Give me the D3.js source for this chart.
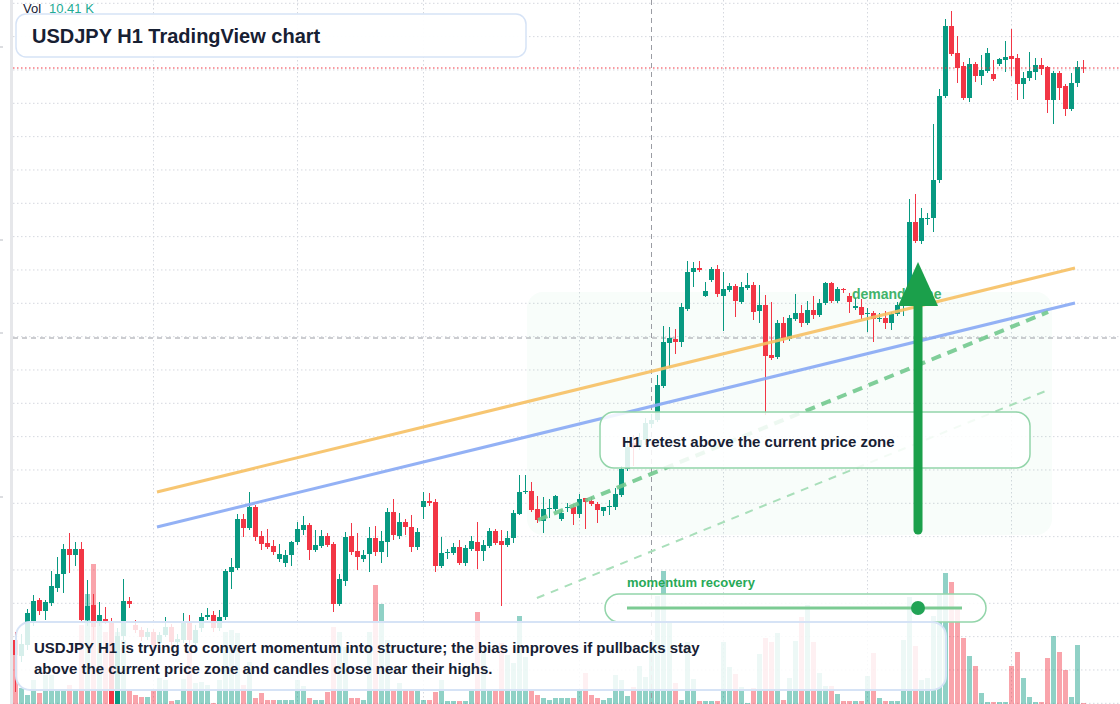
<!DOCTYPE html>
<html>
<head>
<meta charset="utf-8">
<script src="https://cdn.jsdelivr.net/npm/d3@7/dist/d3.min.js"></script>
<style>
  html, body { margin: 0; padding: 0; background: #fff; }
  svg { display: block; font-family: "Liberation Sans", Arial, sans-serif; }
</style>
</head>
<body>
<svg id="chart" width="1120" height="704"></svg>
<script>
// USDJPY H1 свечи (индекс = номер бара)
const open = [
  153.60, 153.44, 153.55, 153.78, 154.00, 153.89, 153.97, 154.12, 154.26, 154.51,
  154.45, 154.51, 153.80, 153.95, 153.79, 153.81, 153.79, 152.84, 153.64, 153.99,
  153.75, 153.70, 153.63, 153.68, 153.57, 153.65, 153.73, 153.58, 153.60, 153.78,
  153.57, 153.72, 153.83, 153.85, 153.72, 153.83, 154.28, 154.32, 154.81, 154.72,
  154.93, 154.64, 154.57, 154.54, 154.41, 154.37, 154.45, 154.58, 154.70, 154.75,
  154.50, 154.54, 154.64, 154.56, 153.96, 154.19, 154.64, 154.49, 154.41, 154.46,
  154.62, 154.48, 154.58, 154.88, 154.64, 154.78, 154.73, 154.53, 154.93, 154.99,
  154.98, 154.34, 154.47, 154.47, 154.53, 154.37, 154.51, 154.58, 154.49, 154.54,
  154.69, 154.59, 154.55, 154.62, 154.86, 155.08, 155.09, 154.91, 154.79, 154.91,
  154.91, 154.81, 154.925, 154.93, 154.86, 155.02, 154.99, 154.96, 154.89, 154.935,
  154.93, 155.05, 155.31, 155.57, 155.53, 155.60, 155.76, 155.80, 156.14, 156.57,
  156.61, 156.58, 156.91, 157.28, 157.32, 157.04, 157.20, 157.31, 157.04, 157.10,
  157.14, 156.98, 157.12, 157.15, 156.89, 156.95, 156.45, 156.43, 156.77, 156.61,
  156.81, 156.87, 156.77, 156.90, 156.85, 156.97, 157.17, 156.99, 157.11, 157.04,
  156.92, 156.93, 156.865, 156.87, 156.815, 156.82, 156.77, 156.86, 156.94, 156.97,
  157.78, 157.59, 157.815, 157.82, 158.20, 159.04, 159.74, 159.47, 159.34, 159.02,
  159.36, 159.24, 159.29, 159.26, 159.36, 159.40, 159.44, 159.42, 159.16, 159.22,
  159.28, 159.35, 159.33, 159.00, 159.27, 159.14, 158.91, 159.17, 159.325
]
const high = [
  153.68, 153.66, 153.91, 154.05, 154.02, 154.00, 154.29, 154.43, 154.56, 154.67,
  154.58, 154.58, 154.20, 154.06, 153.98, 153.93, 153.82, 153.72, 154.21, 154.03,
  153.80, 153.73, 153.72, 153.71, 153.68, 153.83, 153.76, 153.66, 153.87, 153.85,
  153.75, 153.87, 153.92, 153.89, 153.90, 154.31, 154.42, 154.86, 154.86, 155.08,
  154.95, 154.69, 154.71, 154.60, 154.56, 154.50, 154.59, 154.78, 154.84, 154.77,
  154.70, 154.70, 154.67, 154.58, 154.26, 154.68, 154.77, 154.67, 154.50, 154.73,
  154.74, 154.69, 154.92, 155.01, 154.87, 154.81, 154.85, 154.72, 155.08, 155.07,
  155.01, 154.63, 154.51, 154.57, 154.60, 154.55, 154.64, 154.78, 154.60, 154.72,
  154.71, 154.70, 154.69, 154.90, 155.25, 155.25, 155.18, 155.04, 155.03, 155.01,
  155.05, 154.90, 154.97, 154.95, 155.06, 155.02, 155.03, 154.98, 154.93, 155.00,
  155.12, 155.34, 155.63, 155.65, 155.67, 155.82, 155.86, 156.25, 156.74, 156.73,
  156.71, 156.97, 157.39, 157.38, 157.39, 157.18, 157.33, 157.35, 157.28, 157.17,
  157.16, 157.18, 157.27, 157.18, 157.15, 157.05, 156.98, 156.80, 156.83, 156.85,
  157.06, 156.95, 156.99, 157.04, 157.01, 157.18, 157.18, 157.13, 157.12, 157.07,
  157.02, 157.01, 156.92, 156.89, 156.87, 156.89, 156.88, 156.98, 157.03, 158.01,
  158.06, 157.92, 157.87, 158.76, 159.11, 159.81, 159.89, 159.64, 159.38, 159.42,
  159.38, 159.45, 159.52, 159.40, 159.42, 159.59, 159.71, 159.46, 159.28, 159.48,
  159.42, 159.42, 159.34, 159.29, 159.29, 159.16, 159.27, 159.39, 159.40
]
const low = [
  153.08, 153.38, 153.50, 153.74, 153.85, 153.80, 153.94, 154.08, 154.07, 154.27,
  154.34, 153.78, 153.74, 153.60, 153.74, 153.76, 152.70, 152.70, 153.60, 153.92,
  153.67, 153.59, 153.60, 153.50, 153.53, 153.63, 153.54, 153.55, 153.57, 153.55,
  153.52, 153.68, 153.80, 153.68, 153.69, 153.80, 154.11, 154.30, 154.63, 154.70,
  154.59, 154.50, 154.51, 154.45, 154.38, 154.33, 154.34, 154.55, 154.65, 154.40,
  154.48, 154.52, 154.53, 153.88, 153.94, 154.14, 154.45, 154.30, 154.38, 154.28,
  154.44, 154.37, 154.43, 154.60, 154.61, 154.65, 154.48, 154.50, 154.81, 154.94,
  154.28, 154.32, 154.41, 154.45, 154.35, 154.34, 154.49, 154.31, 154.39, 154.52,
  154.55, 153.94, 154.53, 154.57, 154.85, 155.06, 154.88, 154.77, 154.67, 154.82,
  154.89, 154.79, 154.88, 154.75, 154.82, 154.71, 154.94, 154.77, 154.84, 154.85,
  154.90, 155.03, 155.29, 155.34, 155.50, 155.55, 155.72, 155.78, 156.12, 156.32,
  156.46, 156.53, 156.89, 157.13, 157.28, 157.03, 157.18, 157.03, 156.69, 157.08,
  156.83, 156.96, 157.10, 156.80, 156.77, 155.85, 156.40, 156.41, 156.57, 156.59,
  156.79, 156.73, 156.75, 156.81, 156.83, 156.95, 156.97, 156.97, 157.07, 156.87,
  156.90, 156.81, 156.68, 156.58, 156.78, 156.71, 156.70, 156.84, 156.84, 156.95,
  157.57, 157.56, 157.75, 157.68, 158.17, 159.02, 159.44, 159.17, 159.00, 158.98,
  159.18, 159.15, 159.27, 159.19, 159.34, 159.28, 159.24, 159.00, 159.01, 159.19,
  159.20, 159.25, 158.87, 158.76, 159.00, 158.84, 158.89, 159.13, 159.27
]
const close = [
  153.45, 153.56, 153.87, 153.99, 153.89, 153.98, 154.14, 154.26, 154.51, 154.45,
  154.51, 153.80, 153.94, 153.73, 153.85, 153.77, 152.80, 153.64, 153.99, 153.96,
  153.70, 153.63, 153.68, 153.55, 153.65, 153.73, 153.58, 153.61, 153.78, 153.60,
  153.70, 153.83, 153.85, 153.72, 153.83, 154.29, 154.33, 154.81, 154.72, 154.93,
  154.63, 154.56, 154.53, 154.48, 154.46, 154.45, 154.58, 154.71, 154.75, 154.50,
  154.55, 154.64, 154.55, 153.96, 154.21, 154.63, 154.48, 154.43, 154.45, 154.62,
  154.48, 154.59, 154.88, 154.65, 154.78, 154.73, 154.53, 154.68, 154.99, 154.97,
  154.34, 154.47, 154.48, 154.53, 154.37, 154.52, 154.59, 154.49, 154.55, 154.69,
  154.57, 154.55, 154.62, 154.87, 155.08, 155.09, 154.90, 154.80, 154.91, 154.92,
  155.04, 154.87, 154.93, 154.86, 155.01, 154.98, 154.96, 154.90, 154.93, 154.94,
  155.06, 155.31, 155.53, 155.52, 155.60, 155.77, 155.80, 156.15, 156.58, 156.62,
  156.58, 156.93, 157.28, 157.32, 157.30, 157.09, 157.31, 157.06, 157.11, 157.14,
  156.99, 157.13, 157.15, 156.88, 156.95, 156.44, 156.42, 156.77, 156.62, 156.82,
  156.87, 156.77, 156.90, 156.85, 156.97, 157.17, 156.99, 157.11, 157.10, 156.98,
  156.94, 156.85, 156.87, 156.81, 156.82, 156.77, 156.86, 156.95, 156.98, 157.78,
  157.59, 157.82, 157.82, 158.20, 159.04, 159.74, 159.46, 159.32, 159.02, 159.36,
  159.24, 159.30, 159.47, 159.21, 159.41, 159.43, 159.41, 159.16, 159.22, 159.29,
  159.35, 159.31, 159.00, 159.27, 159.12, 158.91, 159.17, 159.33, 159.32
]
// объём, тысячи
const volume = [
  9.8, 3.2, 1.8, 4.8, 2.2, 5.8, 5.8, 2.8, 2.8, 3.8,
  2.8, 15.8, 22.0, 28.0, 17.8, 14.4, 14.4, 14.4, 12.8, 2.8,
  1.8, 1.4, 1.4, 3.0, 5.2, 4.8, 0.6, 0.8, 5.0, 10.8,
  4.2, 4.4, 3.8, 0.2, 4.8, 14.4, 14.8, 14.2, 3.8, 8.4,
  1.2, 2.2, 0.8, 0.8, 0.8, 0.8, 0.8, 4.8, 3.6, 1.2,
  0.8, 0.8, 2.4, 15.4, 14.4, 11.4, 1.2, 1.2, 0.8, 14.4,
  23.8, 20.0, 12.8, 2.8, 4.2, 2.8, 2.8, 2.8, 0.8, 0.8,
  2.4, 4.8, 0.6, 0.6, 0.6, 0.6, 2.8, 18.4, 10.2, 2.8,
  2.8, 12.2, 9.8, 8.2, 17.6, 9.4, 2.8, 1.8, 1.2, 0.8,
  1.2, 1.2, 1.2, 1.2, 2.8, 6.2, 1.8, 1.2, 0.8, 1.2,
  5.8, 4.8, 1.6, 3.4, 7.6, 5.4, 12.8, 21.6, 26.6, 16.4,
  4.2, 0.8, 12.4, 5.0, 0.6, 0.6, 0.6, 0.6, 12.4, 7.4,
  6.0, 3.4, 0.2, 3.2, 10.0, 13.2, 12.4, 14.2, 0.8, 5.2,
  12.6, 17.4, 19.8, 12.4, 6.2, 3.6, 3.6, 2.0, 0.6, 0.6,
  0.6, 0.6, 5.6, 10.2, 1.2, 0.6, 0.6, 0.6, 12.8, 21.4,
  11.6, 4.8, 5.2, 17.6, 21.8, 26.2, 24.4, 19.2, 13.2, 9.6,
  7.6, 2.2, 0.4, 0.4, 0.4, 0.4, 7.6, 10.4, 5.2, 1.4,
  0.4, 0.4, 9.2, 13.6, 10.4, 6.8, 1.4, 11.8, 0.2
]

// Сетка: начало суток (индексы баров) и ценовые уровни
const dayStarts = [23, 47, 68, 94, 118, 142, 166]
const priceLevels = d3.range(22).map(k => 159.967 - k / 3)
// метки шкалы соседней панели слева
const sideMarks = [159.53, 157.60, 156.67, 155.03]

// Перекрестие и текущая цена
const crossBar = 106
const crossPrice = 156.62
const lastVolumeLabel = '10.41 K'

// Линии разметки: [бар, цена]
const trendUpper = [[23.58, 155.08], [176.58, 157.32]]
const trendLower = [[23.58, 154.73], [176.58, 156.97]]
const guideStrong = [[87.1, 154.80], [172.1, 156.88]]
const guideFaint = [[86.9, 154.02], [172.1, 156.10]]
const demandBars = [85.25, 172.75]
const demandPrices = [154.65, 157.08]
const arrowBar = 150.42
const arrowPrices = [154.70, 156.94, 157.38]

const W = 1120, H = 704
const colors = {
  up: '#089981',
  down: '#f23645',
  grid: '#d5d8df',
  text: '#172033',
  green: '#1ba04b',
  label: '#28a957',
  box: '#d6e3f6',
  boxGreen: '#93d5aa'
}

const n = close.length
const x = d3.scaleLinear().domain([0, n - 1]).range([15.5, 1083.5])
const y = d3.scaleLinear().domain([152.96, 160]).range([H, 0])
const yVol = d3.scaleLinear().domain([0, 30]).range([H, H - 150])
const bodyW = 5

const bars = d3.range(n).map(i => ({
  i, o: open[i], h: high[i], l: low[i], c: close[i], v: volume[i], up: close[i] >= open[i]
}))

const svg = d3.select('#chart')

svg.append('defs').append('clipPath').attr('id', 'plot')
  .append('rect').attr('x', 13).attr('y', 0).attr('width', W - 13).attr('height', H)

// Левая полоса
svg.append('rect').attr('x', 10).attr('y', 0).attr('width', 3).attr('height', H).attr('fill', '#e6e7ea')
svg.selectAll('.side').data(sideMarks).join('line')
  .attr('x1', 0).attr('x2', 3)
  .attr('y1', d => y(d)).attr('y2', d => y(d))
  .attr('stroke', '#b8bbc2')

// Сетка
const grid = svg.append('g').attr('clip-path', 'url(#plot)')
grid.selectAll('.hgrid').data(priceLevels).join('line')
  .attr('x1', 13).attr('x2', W)
  .attr('y1', d => y(d)).attr('y2', d => y(d))
  .attr('stroke', colors.grid).attr('stroke-dasharray', '1.5,2.5')
grid.selectAll('.vgrid').data(dayStarts).join('line')
  .attr('x1', d => x(d)).attr('x2', d => x(d))
  .attr('y1', 0).attr('y2', H)
  .attr('stroke', colors.grid).attr('stroke-dasharray', '1.5,2.5')

// Объём
const plot = svg.append('g').attr('clip-path', 'url(#plot)')
plot.selectAll('.vol').data(bars).join('rect')
  .attr('x', d => x(d.i) - bodyW / 2)
  .attr('y', d => yVol(d.v))
  .attr('width', bodyW)
  .attr('height', d => H - yVol(d.v))
  .attr('fill', d => d.up ? colors.up : colors.down)
  .attr('fill-opacity', 0.45)

// Зона спроса
plot.append('rect')
  .attr('x', x(demandBars[0])).attr('y', y(demandPrices[1]))
  .attr('width', x(demandBars[1]) - x(demandBars[0]))
  .attr('height', y(demandPrices[0]) - y(demandPrices[1]))
  .attr('rx', 16)
  .attr('fill', '#22c55e').attr('fill-opacity', 0.032)

// Перекрестие
plot.append('line')
  .attr('x1', 13).attr('x2', W).attr('y1', y(crossPrice)).attr('y2', y(crossPrice))
  .attr('stroke', '#9a9ca3').attr('stroke-dasharray', '5,4')
plot.append('line')
  .attr('x1', x(crossBar)).attr('x2', x(crossBar)).attr('y1', 0).attr('y2', H)
  .attr('stroke', '#9a9ca3').attr('stroke-dasharray', '5,4')

// Свечи
const candle = plot.selectAll('.candle').data(bars).join('g')
candle.append('line')
  .attr('x1', d => x(d.i)).attr('x2', d => x(d.i))
  .attr('y1', d => y(d.h)).attr('y2', d => y(d.l))
  .attr('stroke', d => d.up ? colors.up : colors.down)
candle.append('rect')
  .attr('x', d => x(d.i) - bodyW / 2)
  .attr('y', d => y(Math.max(d.o, d.c)))
  .attr('width', bodyW)
  .attr('height', d => Math.max(1, Math.abs(y(d.o) - y(d.c))))
  .attr('fill', d => d.up ? colors.up : colors.down)

// Текущая цена
plot.append('line')
  .attr('x1', 13).attr('x2', W)
  .attr('y1', y(close[n - 1])).attr('y2', y(close[n - 1]))
  .attr('stroke', colors.down).attr('stroke-width', 1.2).attr('stroke-dasharray', '1.5,2.5')

// Трендовые линии
const seg = d3.line().x(d => x(d[0])).y(d => y(d[1]))
plot.append('path').datum(trendUpper).attr('d', seg)
  .attr('stroke', '#f6c063').attr('stroke-width', 3).attr('fill', 'none').attr('stroke-opacity', 0.9)
plot.append('path').datum(trendLower).attr('d', seg)
  .attr('stroke', '#87a8f4').attr('stroke-width', 3).attr('fill', 'none').attr('stroke-opacity', 0.9)
plot.append('path').datum(guideStrong).attr('d', seg)
  .attr('stroke', '#72c98e').attr('stroke-width', 4).attr('fill', 'none')
  .attr('stroke-dasharray', '10,7').attr('stroke-opacity', 0.9)
plot.append('path').datum(guideFaint).attr('d', seg)
  .attr('stroke', '#a9dfba').attr('stroke-width', 2).attr('fill', 'none')
  .attr('stroke-dasharray', '8,7')

// Подпись зоны
svg.append('text')
  .attr('x', 852).attr('y', 299)
  .attr('fill', colors.label).attr('fill-opacity', 0.9)
  .attr('font-size', 14).attr('font-weight', 700)
  .text('demand zone')

// Блок H1 retest
svg.append('rect')
  .attr('x', 600).attr('y', 412).attr('width', 430).attr('height', 56).attr('rx', 14)
  .attr('fill', '#fff').attr('fill-opacity', 0.86)
  .attr('stroke', colors.boxGreen).attr('stroke-width', 1.5)
svg.append('text')
  .attr('x', 622).attr('y', 447)
  .attr('fill', colors.text).attr('font-size', 15).attr('font-weight', 700)
  .text('H1 retest above the current price zone')

// Стрелка
const ax = x(arrowBar)
svg.append('line')
  .attr('x1', ax).attr('x2', ax)
  .attr('y1', y(arrowPrices[0])).attr('y2', y(arrowPrices[1]))
  .attr('stroke', colors.green).attr('stroke-width', 9).attr('stroke-linecap', 'round')
svg.append('path')
  .attr('d', `M${ax},${y(arrowPrices[2])} L${ax + 20},${y(arrowPrices[1])} L${ax - 20},${y(arrowPrices[1])} Z`)
  .attr('fill', colors.green)

// Momentum
svg.append('text')
  .attr('x', 627).attr('y', 587)
  .attr('fill', colors.label).attr('font-size', 13).attr('font-weight', 700)
  .text('momentum recovery')
svg.append('rect')
  .attr('x', 605).attr('y', 594).attr('width', 381).attr('height', 28).attr('rx', 14)
  .attr('fill', '#fff').attr('fill-opacity', 0.85)
  .attr('stroke', colors.boxGreen).attr('stroke-width', 1.5)
svg.append('line')
  .attr('x1', 627).attr('x2', 962).attr('y1', 608).attr('y2', 608)
  .attr('stroke', '#7ccb93').attr('stroke-width', 3)
svg.append('circle')
  .attr('cx', 918).attr('cy', 608).attr('r', 7)
  .attr('fill', '#22a355')

// Нижний комментарий
svg.append('rect')
  .attr('x', 16).attr('y', 622).attr('width', 930).attr('height', 68).attr('rx', 14)
  .attr('fill', '#fff').attr('fill-opacity', 0.84)
  .attr('stroke', colors.box).attr('stroke-width', 2)
const note = svg.append('text')
  .attr('fill', colors.text).attr('font-size', 15).attr('font-weight', 700)
note.append('tspan').attr('x', 34).attr('y', 653)
  .text('USDJPY H1 is trying to convert momentum into structure; the bias improves if pullbacks stay')
note.append('tspan').attr('x', 34).attr('y', 674)
  .text('above the current price zone and candles close near their highs.')

// Заголовок
svg.append('rect')
  .attr('x', 16).attr('y', 14).attr('width', 510).attr('height', 43).attr('rx', 10)
  .attr('fill', '#fff').attr('fill-opacity', 0.95)
  .attr('stroke', colors.box).attr('stroke-width', 1.5)
svg.append('text')
  .attr('x', 32).attr('y', 43)
  .attr('fill', colors.text).attr('font-size', 20).attr('font-weight', 700)
  .text('USDJPY H1 TradingView chart')

// Объём последнего бара
const volLabel = svg.append('text').attr('x', 23).attr('y', 13).attr('font-size', 13)
volLabel.append('tspan').attr('fill', colors.text).text('Vol')
volLabel.append('tspan').attr('x', 49).attr('fill', '#22ab94').text(lastVolumeLabel)
</script>
</body>
</html>
